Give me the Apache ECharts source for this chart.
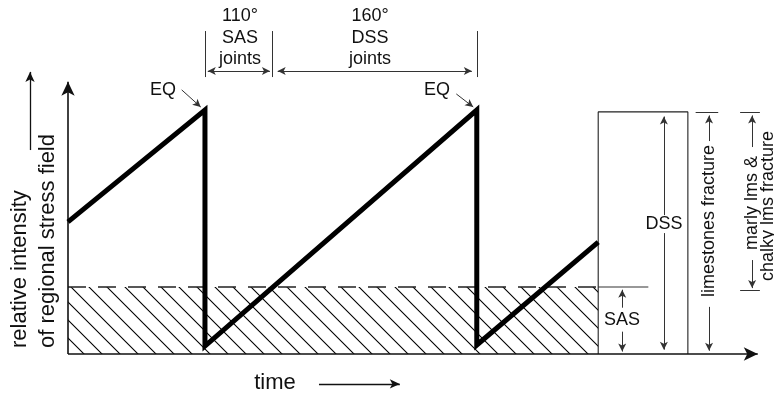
<!DOCTYPE html>
<html>
<head>
<meta charset="utf-8">
<script src="https://cdn.jsdelivr.net/npm/echarts@6/dist/echarts.min.js"></script>
<style>html,body{margin:0;padding:0;background:#fff}#c{width:774px;height:395px}</style>
</head>
<body>
<div id="c"></div>
<script>
// ---- data (x: relative time units, y: relative stress intensity) ----
const sawTime   = [0, 19.4, 19.4, 57.9, 57.9, 75.1];
const sawStress = [48.5, 89.6, 2.9, 89.6, 3.3, 41.1];
const eqTimes   = [19.4, 57.9];          // earthquakes
const sasLevel  = 24.6;                  // SAS joint threshold
const dssLevel  = 88.9;                  // DSS threshold
const sasReachTime = 29.0;               // stress reaches SAS level after EQ
const hatchEnd  = 75.1;
const sasLineEnd = 82.2;
const boxRange  = [75.1, 87.8];
const topLabels1 = ['110°', 'SAS', 'joints'];
const topLabels2 = ['160°', 'DSS', 'joints'];

const F = '"Liberation Sans", Arial, Helvetica, sans-serif';
const INK = '#111';
const THIN = '#333';

// hatch pattern
function hatch() {
  const s = 18, c = document.createElement('canvas');
  c.width = s; c.height = s;
  const g = c.getContext('2d');
  g.strokeStyle = '#000'; g.lineWidth = 1.1;
  g.beginPath();
  g.moveTo(-2, -2); g.lineTo(s + 2, s + 2);
  g.moveTo(s - 2, -2); g.lineTo(s + 2, 2);
  g.moveTo(-2, s - 2); g.lineTo(2, s + 2);
  g.stroke();
  return c;
}

const pts = sawTime.map((t, i) => [t, sawStress[i]]);

function seg(a, b, opt) {
  opt = opt || {};
  const as = opt.start ? 'arrow' : 'none';
  const ae = opt.end === false ? 'none' : 'arrow';
  const sz = opt.size || [7, 9];
  return [
    { coord: a, symbol: as, symbolSize: sz, lineStyle: { color: opt.color || THIN, width: opt.width || 1, type: 'solid' } },
    { coord: b, symbol: ae, symbolSize: sz }
  ];
}

const yTop = 118.6, yBot = 101.7, yArr = 103.9;
const annot = [
  // axes
  seg([0, 0], [97.7, 0], { color: INK, width: 1.6, size: [10, 14] }),
  seg([0, 0], [0, 100], { color: INK, width: 1.6, size: [10, 14] }),
  // joint period marks
  seg([eqTimes[0], yBot], [eqTimes[0], yTop], { end: false }),
  seg([sasReachTime, yBot], [sasReachTime, yTop], { end: false }),
  seg([eqTimes[1], yBot], [eqTimes[1], yTop], { end: false }),
  seg([eqTimes[0] + 0.4, yArr], [sasReachTime - 0.4, yArr], { start: true, size: [6, 8] }),
  seg([sasReachTime + 0.7, yArr], [eqTimes[1] - 0.7, yArr], { start: true, size: [6, 8] }),
  // EQ pointers
  seg([16.1, 97.0], [18.8, 90.7], { size: [6, 8] }),
  seg([55.0, 95.5], [57.4, 90.7], { size: [6, 8] }),
  // DSS range
  seg([84.4, 51.0], [84.4, 87.2], { size: [6, 8] }),
  seg([84.4, 44.4], [84.4, 1.6], { size: [6, 8] }),
  // SAS range
  seg([78.5, 17.0], [78.5, 23.6], { size: [6, 8] }),
  seg([78.5, 8.2], [78.5, 0.9], { size: [6, 8] }),
  // limestones fracture
  seg([88.9, dssLevel], [92.1, dssLevel], { end: false }),
  seg([90.8, 78.2], [90.8, 87.6], { size: [6, 8] }),
  seg([90.8, 17.3], [90.8, 1.2], { size: [6, 8] }),
  // marly / chalky lms fracture
  seg([95.2, dssLevel], [98.0, dssLevel], { end: false }),
  seg([96.9, 76.0], [96.9, 87.6], { size: [6, 8] }),
  seg([95.2, 23.5], [98.0, 23.5], { end: false }),
  seg([96.9, 34.5], [96.9, 24.2], { size: [6, 8] }),
  // axis-title arrows
  seg([-5.38, 74.9], [-5.38, 103.6], { color: INK, width: 1.3, size: [7, 10] }),
  seg([35.55, -11.0], [47.0, -11.0], { color: INK, width: 1.3, size: [7, 10] })
];

const chart = echarts.init(document.getElementById('c'), null, { renderer: 'canvas' });

function txt(t, x, y, size, opt) {
  opt = opt || {};
  return {
    type: 'text', x: x, y: y, rotation: opt.rot || 0, z: 100,
    style: {
      text: t, font: (size || 18) + 'px ' + F, fill: INK,
      textAlign: opt.align || 'center', textVerticalAlign: 'middle'
    }
  };
}
const R = Math.PI / 2;

chart.setOption({
  animation: false,
  backgroundColor: '#fff',
  grid: { left: 0, right: 0, top: 0, bottom: 0 },
  xAxis: { type: 'value', min: -9.632, max: 100, show: false },
  yAxis: { type: 'value', min: -15.06, max: 130, show: false },
  series: [
    {
      name: 'SAS threshold', type: 'line', symbol: 'none', silent: true, z: 1,
      data: [[0, sasLevel], [hatchEnd, sasLevel]],
      lineStyle: { color: '#222', width: 1.3, type: [18, 12] },
      areaStyle: { color: { image: hatch(), repeat: 'repeat' }, opacity: 1 }
    },
    {
      name: 'SAS ext', type: 'line', symbol: 'none', silent: true, z: 1,
      data: [[hatchEnd, sasLevel], [sasLineEnd, sasLevel]],
      lineStyle: { color: '#333', width: 1.2 }
    },
    {
      name: 'box', type: 'line', symbol: 'none', silent: true, z: 2,
      data: [[boxRange[0], 0], [boxRange[0], dssLevel], [boxRange[1], dssLevel], [boxRange[1], 0]],
      lineStyle: { color: '#222', width: 1.1 },
      markLine: { silent: true, animation: false, label: { show: false }, emphasis: { disabled: true }, data: annot }
    },
    {
      name: 'stress', type: 'line', symbol: 'none', silent: true, z: 5,
      data: pts,
      lineStyle: { color: '#000', width: 5, join: 'miter', cap: 'butt' }
    }
  ],
  graphic: [
    txt(topLabels1[0], 240, 16), txt(topLabels1[1], 240, 38), txt(topLabels1[2], 240, 59),
    txt(topLabels2[0], 370, 16), txt(topLabels2[1], 370, 38), txt(topLabels2[2], 370, 59),
    txt('EQ', 163, 90), txt('EQ', 437, 90),
    txt('DSS', 664, 224), txt('SAS', 622, 320),
    txt('limestones fracture', 709, 221, 18, { rot: R }),
    txt('marly lms &', 752, 203, 18, { rot: R }),
    txt('chalky lms fracture', 768, 206, 18, { rot: R }),
    txt('relative intensity', 20, 348, 22, { rot: R, align: 'left' }),
    txt('of regional stress field', 48, 348, 22, { rot: R, align: 'left' }),
    txt('time', 275, 383, 22)
  ]
});
</script>
</body>
</html>
